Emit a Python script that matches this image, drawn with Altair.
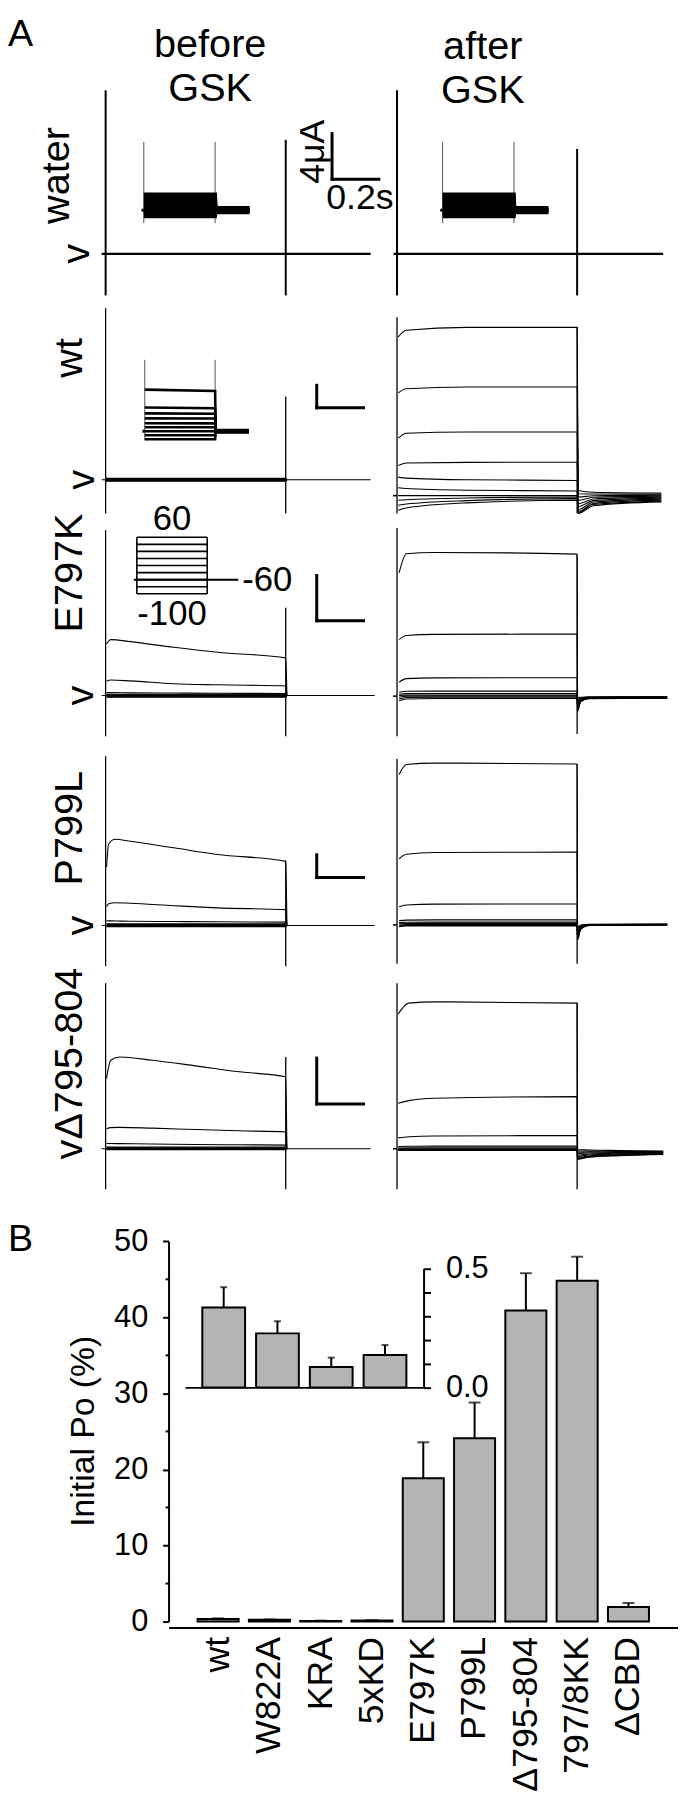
import altair as alt
import pandas as pd

FONT = "Liberation Sans"
INK = "#000000"
BAR_FILL = "#b4b4b4"

# ======================= Panel A data =======================
# time in s from the voltage-step onset, current in uA (0 = zero-current level "v")
SCALEBAR_S = 0.2
SCALEBAR_UA = 4.0

# ---- water ----
WATER_BEFORE_BASELINE_T = [-0.017, 1.133]
WATER_AFTER_BASELINE_T = [-0.015, 1.138]
WATER_BEFORE_TRANSIENTS = [[0.0, 14.35, -3.65], [0.77, 10.0, -3.65]]
WATER_AFTER_TRANSIENTS = [[0.0, 14.35, -3.65], [0.77, 9.2, -3.65]]
# magnified insets (x10 gain, compressed time)
INSET_PULSE_T = [0.0, 0.77]
INSET_TAIL_T = [0.775, 1.14]
INSET_PRE_T = [-0.025, 0.0]
WATER_INSET_LEVELS = [0.14, 0.115, 0.09, 0.065, 0.04, 0.015, -0.01, -0.035, -0.055]
WATER_INSET_TAILS = [0.02, 0.015, 0.01, 0.005, 0.0, -0.005, -0.01, -0.015, -0.02]
WATER_INSET_TRANSIENTS = [[0.0, 0.6, -0.113], [0.77, 0.6, -0.113]]

# ---- wt ----
WT_BEFORE_LEVELS = [0.25, 0.18, 0.12, 0.06, 0.0, -0.06, -0.12, -0.18, -0.25]
WT_BEFORE_BASELINE_T = [-0.017, 1.133]
WT_BEFORE_TRANSIENTS = [[0.0, 30.5, -6.0], [0.77, 14.8, -6.0]]
WT_INSET_START = [0.740, 0.423, 0.317, 0.229, 0.141, 0.070, 0.0, -0.070, -0.141]
WT_INSET_END = [0.714, 0.410, 0.310, 0.225, 0.140, 0.070, 0.0, -0.070, -0.141]
WT_INSET_TAILS = [0.02, 0.015, 0.01, 0.005, 0.0, -0.005, -0.01, -0.015, -0.02]
WT_INSET_TRANSIENTS = [[0.0, 1.27, -0.159], [0.77, 1.27, -0.159]]
WT_AFTER_T = [0.005, 0.04, 0.3, 0.77]
WT_AFTER_I = [
    [25.4, 26.6, 27.1, 27.1],
    [15.45, 16.2, 16.5, 16.5],
    [7.4, 8.28, 8.5, 8.51],
    [2.52, 3.0, 3.1, 3.12],
    [0.47, 0.3, 0.0, -0.12],
    [-1.41, -1.55, -1.85, -1.99],
    [-2.82, -2.82, -2.82, -2.82],
    [-3.65, -3.55, -3.25, -3.05],
    [-4.53, -4.3, -3.7, -3.35],
    [-5.41, -5.0, -4.1, -3.65],
]
WT_AFTER_TAIL_T = [0.775, 0.84, 1.13]
WT_AFTER_TAIL_I = [
    [-1.89, -2.2, -2.34],
    [-2.47, -2.52, -2.55],
    [-3.05, -2.85, -2.73],
    [-3.65, -3.1, -2.91],
    [-4.23, -3.4, -3.08],
    [-4.76, -3.7, -3.26],
    [-5.29, -3.95, -3.44],
    [-5.64, -4.2, -3.61],
    [-5.81, -4.4, -3.79],
    [-5.99, -4.6, -3.93],
]
WT_AFTER_HOLD = -2.82
WT_AFTER_TRANSIENTS = [[0.0, 28.9, -6.0], [0.77, 27.1, -6.0]]

# ---- E797K ----
E797K_BEFORE_T = [0.004, 0.022, 0.106, 0.292, 0.478, 0.77]
E797K_BEFORE_I = [
    [4.55, 4.94, 4.76, 4.26, 3.82, 3.33],
    [1.26, 1.37, 1.30, 1.05, 0.95, 0.85],
    [0.26, 0.26, 0.24, 0.22, 0.20, 0.18],
    [0.12, 0.12, 0.12, 0.12, 0.12, 0.12],
    [0.06, 0.06, 0.06, 0.06, 0.06, 0.06],
    [0.0, 0.0, 0.0, 0.0, 0.0, 0.0],
    [-0.05, -0.05, -0.05, -0.05, -0.05, -0.05],
    [-0.1, -0.1, -0.1, -0.1, -0.1, -0.1],
    [-0.14, -0.14, -0.14, -0.14, -0.14, -0.14],
]
E797K_BEFORE_BASELINE_T = [-0.017, 1.15]
E797K_BEFORE_TRANSIENTS = [[0.0, 14.6, -3.6], [0.77, 7.76, -3.6]]
E797K_AFTER_T = [0.009, 0.04, 0.16, 0.77]
E797K_AFTER_I = [
    [10.83, 12.52, 12.64, 12.49],
    [4.94, 5.30, 5.40, 5.43],
    [1.20, 1.50, 1.56, 1.58],
    [0.30, 0.38, 0.39, 0.39],
    [0.12, 0.17, 0.18, 0.18],
    [0.00, 0.04, 0.04, 0.04],
    [-0.15, -0.06, -0.05, -0.05],
    [-0.30, -0.17, -0.15, -0.15],
    [-0.45, -0.30, -0.26, -0.26],
]
E797K_AFTER_TAIL_T = [0.772, 0.785, 0.82, 1.155]
E797K_AFTER_TAIL_I = [
    [-0.2, -0.15, -0.12, -0.1],
    [-0.35, -0.2, -0.13, -0.12],
    [-0.5, -0.25, -0.15, -0.13],
    [-0.65, -0.3, -0.17, -0.15],
    [-0.8, -0.35, -0.19, -0.16],
    [-0.95, -0.4, -0.21, -0.18],
    [-1.1, -0.45, -0.23, -0.2],
    [-1.25, -0.5, -0.25, -0.22],
    [-1.4, -0.55, -0.27, -0.24],
]
E797K_AFTER_HOLD = -0.05
E797K_AFTER_TRANSIENTS = [[0.0, 14.8, -3.6], [0.77, 12.49, -3.4]]

# ---- P799L ----
P799L_BEFORE_T = [0.004, 0.013, 0.041, 0.106, 0.292, 0.478, 0.77]
P799L_BEFORE_I = [
    [10.26, 14.30, 15.13, 14.78, 13.63, 12.47, 11.25],
    [3.30, 3.80, 4.00, 3.90, 3.48, 3.10, 2.78],
    [0.82, 0.82, 0.80, 0.75, 0.70, 0.65, 0.59],
    [0.30, 0.30, 0.30, 0.30, 0.30, 0.30, 0.30],
    [0.15, 0.15, 0.15, 0.15, 0.15, 0.15, 0.15],
    [0.0, 0.0, 0.0, 0.0, 0.0, 0.0, 0.0],
    [-0.08, -0.08, -0.08, -0.08, -0.08, -0.08, -0.08],
    [-0.14, -0.14, -0.14, -0.14, -0.14, -0.14, -0.14],
    [-0.2, -0.2, -0.2, -0.2, -0.2, -0.2, -0.2],
]
P799L_BEFORE_BASELINE_T = [-0.017, 1.15]
P799L_BEFORE_TRANSIENTS = [[0.0, 29.7, -7.13], [0.77, 11.4, -7.13]]
P799L_AFTER_T = [0.009, 0.04, 0.16, 0.77]
P799L_AFTER_I = [
    [26.5, 28.24, 28.5, 28.35],
    [11.72, 12.5, 12.8, 12.87],
    [3.3, 3.6, 3.75, 3.77],
    [0.85, 0.95, 0.99, 0.99],
    [0.5, 0.57, 0.59, 0.59],
    [0.3, 0.35, 0.37, 0.37],
    [0.1, 0.15, 0.17, 0.17],
    [-0.05, 0.0, 0.02, 0.02],
    [-0.2, -0.1, -0.08, -0.08],
]
P799L_AFTER_TAIL_T = [0.772, 0.785, 0.82, 1.155]
P799L_AFTER_TAIL_I = [
    [-0.3, 0.1, 0.2, 0.24],
    [-0.6, 0.0, 0.18, 0.22],
    [-0.9, -0.1, 0.15, 0.2],
    [-1.2, -0.2, 0.12, 0.18],
    [-1.5, -0.3, 0.1, 0.16],
    [-1.8, -0.4, 0.08, 0.14],
    [-2.1, -0.5, 0.05, 0.12],
    [-2.3, -0.6, 0.03, 0.1],
    [-2.5, -0.7, 0.0, 0.08],
]
P799L_AFTER_HOLD = 0.1
P799L_AFTER_TRANSIENTS = [[0.0, 29.2, -6.7], [0.77, 28.35, -6.7]]

# ---- delta795-804 ----
D795_BEFORE_T = [0.004, 0.022, 0.06, 0.2, 0.385, 0.571, 0.77]
D795_BEFORE_I = [
    [6.13, 7.72, 8.00, 7.72, 7.23, 6.71, 6.28],
    [1.75, 1.85, 1.87, 1.80, 1.68, 1.57, 1.47],
    [0.46, 0.46, 0.45, 0.42, 0.38, 0.35, 0.32],
    [0.15, 0.15, 0.15, 0.15, 0.15, 0.15, 0.15],
    [0.08, 0.08, 0.08, 0.08, 0.08, 0.08, 0.08],
    [0.03, 0.03, 0.03, 0.03, 0.03, 0.03, 0.03],
    [0.0, 0.0, 0.0, 0.0, 0.0, 0.0, 0.0],
    [-0.05, -0.05, -0.05, -0.05, -0.05, -0.05, -0.05],
    [-0.08, -0.08, -0.08, -0.08, -0.08, -0.08, -0.08],
]
D795_BEFORE_BASELINE_T = [-0.017, 1.133]
D795_BEFORE_TRANSIENTS = [[0.0, 14.43, -3.52], [0.77, 8.0, -3.52]]
D795_AFTER_T = [0.005, 0.05, 0.16, 0.77]
D795_AFTER_I = [
    [11.75, 12.7, 12.81, 12.7],
    [3.97, 4.2, 4.41, 4.55],
    [0.95, 1.05, 1.12, 1.15],
    [0.2, 0.22, 0.23, 0.23],
    [0.07, 0.08, 0.09, 0.09],
    [0.0, 0.0, 0.0, 0.0],
    [-0.05, -0.05, -0.05, -0.05],
    [-0.1, -0.1, -0.1, -0.1],
    [-0.14, -0.14, -0.14, -0.14],
]
D795_AFTER_TAIL_T = [0.772, 0.82, 0.95, 1.138]
D795_AFTER_TAIL_I = [
    [-0.06, -0.1, -0.15, -0.2],
    [-0.18, -0.2, -0.22, -0.24],
    [-0.3, -0.28, -0.27, -0.27],
    [-0.42, -0.36, -0.32, -0.31],
    [-0.54, -0.45, -0.38, -0.35],
    [-0.66, -0.54, -0.44, -0.39],
    [-0.78, -0.62, -0.5, -0.43],
    [-0.86, -0.68, -0.55, -0.46],
    [-0.92, -0.74, -0.6, -0.49],
]
D795_AFTER_HOLD = 0.0
D795_AFTER_TRANSIENTS = [[0.0, 14.43, -3.52], [0.77, 12.7, -3.52]]

# ---- voltage protocol (mV) ----
PROTOCOL_STEPS_MV = [60, 40, 20, 0, -20, -40, -60, -80, -100]
PROTOCOL_HOLD_MV = -60
PROTOCOL_STEP_T = [0.0, 0.77]
PROTOCOL_HOLD_T = [-0.033, 1.11]

ROW_LABELS = ["water", "wt", "E797K", "P799L", "v\u0394795-804"]

# ======================= Panel B data =======================
CATEGORIES = ["wt", "W822A", "KRA", "5xKD", "E797K", "P799L",
              "\u0394795-804", "797/8KK", "\u0394CBD"]
PO_MEAN = [0.336, 0.227, 0.086, 0.136, 18.85, 24.1, 40.9, 44.8, 1.92]
PO_SEM = [0.085, 0.051, 0.039, 0.042, 4.72, 4.7, 4.9, 3.17, 0.52]
MAIN_TICKS = [0, 10, 20, 30, 40, 50]
MINOR_TICKS = [5, 15, 25, 35, 45]
INSET_TICKS = [0, 0.1, 0.2, 0.3, 0.4, 0.5]

# ======================= layout (pixels in chart) =======================
W, H = 676, 1626
PX_PER_S = 236.0
X0_BEFORE, X0_AFTER = 98.5, 392.5
ROW_FRAME = {  # zero-current pixel, pixels per uA
    "water": (240.0, 11.5),
    "wt": (468.0, 5.675),
    "E797K": (685.7, 11.425),
    "P799L": (917.7, 5.75),
    "d795": (1143.0, 11.575),
}
SCALEBAR_AT = {  # (s, uA) in before-column frame
    "water": (0.968, 6.55),
    "wt": (0.9025, 12.8),
    "E797K": (0.9025, 6.6),
    "P799L": (0.9025, 8.42),
    "d795": (0.9025, 3.91),
}

DUMMY = pd.DataFrame({"d": [0]})
layers = []


def xsc(x0, pps):
    return alt.Scale(domain=[0, 1], range=[x0, x0 + pps], nice=False, zero=False)


def ysc(y0, ppu):
    return alt.Scale(domain=[0, 1], range=[y0, y0 - ppu], nice=False, zero=False)


def build(times, values, tail_times=None, tail_values=None, back_to=None):
    rows = []
    for i, vals in enumerate(values):
        pts = list(zip(times, vals))
        if tail_times is not None:
            pts += list(zip(tail_times, tail_values[i]))
        if back_to is not None:
            pts.append(back_to)
        for k, (t, v) in enumerate(pts):
            rows.append({"trace": i, "k": k, "t": t, "I": v})
    return pd.DataFrame(rows)


def flat(t_pair, level):
    return pd.DataFrame({"trace": [0, 0], "k": [0, 1], "t": list(t_pair), "I": [level, level]})


def lines(df, xs, ys, width=1.1, color=INK, interp="monotone"):
    layers.append(alt.Chart(df).mark_line(strokeWidth=width, color=color, interpolate=interp).encode(
        x=alt.X("t:Q", scale=xs, axis=None),
        y=alt.Y("I:Q", scale=ys, axis=None),
        detail="trace:N",
        order=alt.Order("k:Q")))


def vrules(rows, xs, ys, width=1.3, color=INK):
    df = pd.DataFrame(rows, columns=["t", "top", "bottom"])
    layers.append(alt.Chart(df).mark_rule(strokeWidth=width, color=color).encode(
        x=alt.X("t:Q", scale=xs, axis=None),
        y=alt.Y("top:Q", scale=ys, axis=None),
        y2="bottom:Q"))


def scalebar(key, xs, ys):
    t0, i0 = SCALEBAR_AT[key]
    df = pd.DataFrame({"x": [t0, t0], "x2": [t0, t0 + SCALEBAR_S],
                       "y": [i0, i0], "y2": [i0 + SCALEBAR_UA, i0]})
    layers.append(alt.Chart(df).mark_rule(strokeWidth=3, color=INK, strokeCap="square").encode(
        x=alt.X("x:Q", scale=xs, axis=None), x2="x2:Q",
        y=alt.Y("y:Q", scale=ys, axis=None), y2="y2:Q"))


def text(s, x, y, size=40, angle=0, align="center"):
    layers.append(alt.Chart(DUMMY).mark_text(
        text=s, font=FONT, fontSize=size, angle=angle, align=align,
        baseline="alphabetic", color=INK).encode(x=alt.value(x), y=alt.value(y)))


XB = xsc(X0_BEFORE, PX_PER_S)
XA = xsc(X0_AFTER, PX_PER_S)
Y = {k: ysc(*v) for k, v in ROW_FRAME.items()}

# ---------- water row ----------
lines(flat(WATER_BEFORE_BASELINE_T, 0.0), XB, Y["water"], width=2.4, interp="linear")
lines(flat(WATER_AFTER_BASELINE_T, 0.0), XA, Y["water"], width=2.4, interp="linear")
vrules(WATER_BEFORE_TRANSIENTS, XB, Y["water"], 2.0)
vrules(WATER_AFTER_TRANSIENTS, XA, Y["water"], 2.0)
Y_WATER_INSET = ysc(196.0, 115.0)
for x0 in (137.0, 438.5):
    xs_in = xsc(x0, 93.5)
    vrules(WATER_INSET_TRANSIENTS, xs_in, Y_WATER_INSET, 1.0, color="#555555")
    lines(build(INSET_PULSE_T, [[v, v] for v in WATER_INSET_LEVELS],
                INSET_TAIL_T, [[v, v] for v in WATER_INSET_TAILS]),
          xs_in, Y_WATER_INSET, width=3.7, interp="linear")
    lines(flat(INSET_PRE_T, 0.0), xs_in, Y_WATER_INSET, width=3.0, interp="linear")
scalebar("water", XB, Y["water"])

# ---------- wt row ----------
lines(flat(WT_BEFORE_BASELINE_T, 0.0), XB, Y["wt"], width=1.1, interp="linear")
lines(build(INSET_PULSE_T, [[v, v] for v in WT_BEFORE_LEVELS], back_to=(0.775, 0.0)),
      XB, Y["wt"], width=1.1, interp="linear")
vrules(WT_BEFORE_TRANSIENTS, XB, Y["wt"], 1.3)
Y_WT_INSET = ysc(419.0, 56.75)
X_WT_INSET = xsc(138.0, 92.2)
vrules(WT_INSET_TRANSIENTS, X_WT_INSET, Y_WT_INSET, 1.0, color="#555555")
lines(build(INSET_PULSE_T, [[s, e] for s, e in zip(WT_INSET_START, WT_INSET_END)],
            INSET_TAIL_T, [[v, v] for v in WT_INSET_TAILS]),
      X_WT_INSET, Y_WT_INSET, width=2.6, interp="linear")
lines(flat(INSET_PRE_T, 0.0), X_WT_INSET, Y_WT_INSET, width=3.0, interp="linear")
lines(build(WT_AFTER_T, WT_AFTER_I, WT_AFTER_TAIL_T, WT_AFTER_TAIL_I), XA, Y["wt"])
lines(flat([-0.017, 0.0], WT_AFTER_HOLD), XA, Y["wt"], width=1.6, interp="linear")
vrules(WT_AFTER_TRANSIENTS, XA, Y["wt"], 1.3)
scalebar("wt", XB, Y["wt"])

# ---------- E797K row ----------
lines(flat(E797K_BEFORE_BASELINE_T, 0.0), XB, Y["E797K"], width=1.1, interp="linear")
lines(build(E797K_BEFORE_T, E797K_BEFORE_I, back_to=(0.775, 0.0)), XB, Y["E797K"])
vrules(E797K_BEFORE_TRANSIENTS, XB, Y["E797K"], 1.3)
lines(build(E797K_AFTER_T, E797K_AFTER_I, E797K_AFTER_TAIL_T, E797K_AFTER_TAIL_I), XA, Y["E797K"])
lines(flat([-0.017, 0.0], E797K_AFTER_HOLD), XA, Y["E797K"], width=1.6, interp="linear")
vrules(E797K_AFTER_TRANSIENTS, XA, Y["E797K"], 1.3)
scalebar("E797K", XB, Y["E797K"])

# voltage protocol inset
XP = xsc(130.0, 92.2)
YP = alt.Scale(domain=[-100, 60], range=[583, 526], nice=False, zero=False)
steps = pd.DataFrame({"t0": PROTOCOL_STEP_T[0], "t1": PROTOCOL_STEP_T[1], "mv": PROTOCOL_STEPS_MV})
layers.append(alt.Chart(steps).mark_rule(strokeWidth=1.6, color=INK).encode(
    x=alt.X("t0:Q", scale=XP, axis=None), x2="t1:Q",
    y=alt.Y("mv:Q", scale=YP, axis=None)))
hold = pd.DataFrame({"t0": [PROTOCOL_HOLD_T[0]], "t1": [PROTOCOL_HOLD_T[1]], "mv": [PROTOCOL_HOLD_MV]})
layers.append(alt.Chart(hold).mark_rule(strokeWidth=2.0, color=INK).encode(
    x=alt.X("t0:Q", scale=XP, axis=None), x2="t1:Q",
    y=alt.Y("mv:Q", scale=YP, axis=None)))
edges = pd.DataFrame({"t": PROTOCOL_STEP_T,
                      "lo": [min(PROTOCOL_STEPS_MV)] * 2, "hi": [max(PROTOCOL_STEPS_MV)] * 2})
layers.append(alt.Chart(edges).mark_rule(strokeWidth=1.6, color=INK).encode(
    x=alt.X("t:Q", scale=XP, axis=None),
    y=alt.Y("lo:Q", scale=YP, axis=None), y2="hi:Q"))
mid_t = (PROTOCOL_STEP_T[0] + PROTOCOL_STEP_T[1]) / 2
for label_mv, t, dx, dy, align in [
        (max(PROTOCOL_STEPS_MV), mid_t, 0, -7, "center"),
        (min(PROTOCOL_STEPS_MV), mid_t, 0, 32, "center"),
        (PROTOCOL_HOLD_MV, PROTOCOL_HOLD_T[1], 4, 11, "left")]:
    ldf = pd.DataFrame({"t": [t], "mv": [label_mv], "txt": [str(label_mv)]})
    layers.append(alt.Chart(ldf).mark_text(font=FONT, fontSize=35, color=INK, align=align,
                                           baseline="alphabetic", dx=dx, dy=dy).encode(
        x=alt.X("t:Q", scale=XP, axis=None),
        y=alt.Y("mv:Q", scale=YP, axis=None),
        text="txt:N"))

# ---------- P799L row ----------
lines(flat(P799L_BEFORE_BASELINE_T, 0.0), XB, Y["P799L"], width=1.1, interp="linear")
lines(build(P799L_BEFORE_T, P799L_BEFORE_I, back_to=(0.775, 0.0)), XB, Y["P799L"])
vrules(P799L_BEFORE_TRANSIENTS, XB, Y["P799L"], 1.3)
lines(build(P799L_AFTER_T, P799L_AFTER_I, P799L_AFTER_TAIL_T, P799L_AFTER_TAIL_I), XA, Y["P799L"])
lines(flat([-0.017, 0.0], P799L_AFTER_HOLD), XA, Y["P799L"], width=1.6, interp="linear")
vrules(P799L_AFTER_TRANSIENTS, XA, Y["P799L"], 1.3)
scalebar("P799L", XB, Y["P799L"])

# ---------- delta795-804 row ----------
lines(flat(D795_BEFORE_BASELINE_T, 0.0), XB, Y["d795"], width=1.1, interp="linear")
lines(build(D795_BEFORE_T, D795_BEFORE_I, back_to=(0.775, 0.0)), XB, Y["d795"])
vrules(D795_BEFORE_TRANSIENTS, XB, Y["d795"], 1.3)
lines(build(D795_AFTER_T, D795_AFTER_I, D795_AFTER_TAIL_T, D795_AFTER_TAIL_I), XA, Y["d795"])
lines(flat([-0.017, 0.0], D795_AFTER_HOLD), XA, Y["d795"], width=1.6, interp="linear")
vrules(D795_AFTER_TRANSIENTS, XA, Y["d795"], 1.3)
scalebar("d795", XB, Y["d795"])

# ---------- panel A text ----------
text("A", 0, 30, size=38, align="left")
text("before", 204, 41, size=40)
text("GSK", 204, 86, size=40)
text("after", 479, 43, size=40)
text("GSK", 479, 88, size=40)
text(ROW_LABELS[0], 62, 161, angle=270)
text(ROW_LABELS[1], 75, 345, angle=270)
text(ROW_LABELS[2], 74.5, 562, angle=270)
text(ROW_LABELS[3], 75, 819.5, angle=270)
text(ROW_LABELS[4], 75, 1153.7, angle=270, align="left")
text("v", 82, 240, angle=270)
text("v", 87, 468, angle=270)
text("v", 86, 685.7, angle=270)
text("v", 86, 917.7, angle=270)
text("4\u03bcA", 319, 137, size=36, angle=270)
text("0.2s", 355, 195, size=36)

# ======================= Panel B =======================
b_df = pd.DataFrame({"cat": CATEGORIES, "po": PO_MEAN,
                     "top": [m + e for m, e in zip(PO_MEAN, PO_SEM)]})
BX = alt.Scale(domain=CATEGORIES, range=[162, 676], paddingInner=0.2, paddingOuter=0.566)
BY = alt.Scale(domain=[0, 50], range=[1620, 1236.3], nice=False, zero=False)

layers.append(alt.Chart(b_df).mark_bar(fill=BAR_FILL, stroke=INK, strokeWidth=2).encode(
    x=alt.X("cat:N", scale=BX, sort=CATEGORIES,
            axis=alt.Axis(orient="bottom", offset=0, title=None, labelAngle=270,
                          labelFontSize=36, labelFont=FONT, labelColor=INK, labelPadding=9,
                          ticks=False, tickSize=0, domainWidth=2, domainColor=INK,
                          labelLimit=0, grid=False)),
    y=alt.Y("po:Q", scale=BY,
            axis=alt.Axis(orient="left", offset=-162, title=None, values=MAIN_TICKS,
                          tickSize=6, tickWidth=2, tickColor=INK, domainWidth=2,
                          domainColor=INK, labelFontSize=31, labelFont=FONT,
                          labelColor=INK, labelPadding=15, grid=False))))
layers.append(alt.Chart(b_df).mark_rule(strokeWidth=2, color=INK).encode(
    x=alt.X("cat:N", scale=BX, sort=CATEGORIES, axis=None),
    y=alt.Y("po:Q", scale=BY, axis=None), y2="top:Q"))
layers.append(alt.Chart(b_df).mark_tick(color=INK, thickness=2, size=12).encode(
    x=alt.X("cat:N", scale=BX, sort=CATEGORIES, axis=None),
    y=alt.Y("top:Q", scale=BY, axis=None)))
layers.append(alt.Chart(pd.DataFrame({"v": MINOR_TICKS})).mark_rule(strokeWidth=2, color=INK).encode(
    x=alt.value(159), x2=alt.value(162),
    y=alt.Y("v:Q", scale=BY, axis=None)))

# inset (first four constructs, expanded scale)
INSET_CATS = CATEGORIES[:4]
i_df = b_df.iloc[:4]
IX = alt.Scale(domain=INSET_CATS, range=[178.7, 419.3], paddingInner=0.205, paddingOuter=0.32)
IY = alt.Scale(domain=[0, 0.5], range=[1383.7, 1263.7], nice=False, zero=False)
layers.append(alt.Chart(i_df).mark_bar(fill=BAR_FILL, stroke=INK, strokeWidth=2).encode(
    x=alt.X("cat:N", scale=IX, sort=INSET_CATS,
            axis=alt.Axis(orient="bottom", offset=1383.7 - H, title=None, labels=False,
                          ticks=False, tickSize=0, domainWidth=2, domainColor=INK, grid=False)),
    y=alt.Y("po:Q", scale=IY,
            axis=alt.Axis(orient="right", offset=419.3 - W, title=None, values=INSET_TICKS,
                          labelExpr="datum.value == 0 ? '0.0' : (datum.value == 0.5 ? '0.5' : '')",
                          tickSize=7, tickWidth=2, tickColor=INK, domainWidth=2,
                          domainColor=INK, labelFontSize=31, labelFont=FONT,
                          labelColor=INK, labelPadding=15, grid=False))))
layers.append(alt.Chart(i_df).mark_rule(strokeWidth=2, color=INK).encode(
    x=alt.X("cat:N", scale=IX, sort=INSET_CATS, axis=None),
    y=alt.Y("po:Q", scale=IY, axis=None), y2="top:Q"))
layers.append(alt.Chart(i_df).mark_tick(color=INK, thickness=2, size=7).encode(
    x=alt.X("cat:N", scale=IX, sort=INSET_CATS, axis=None),
    y=alt.Y("top:Q", scale=IY, axis=None)))

text("B", 0, 1246, size=38, align="left")
text("Initial Po (%)", 87, 1428, size=34, angle=270)

chart = (alt.layer(*layers)
         .resolve_scale(x="independent", y="independent")
         .properties(width=W, height=H, padding=0)
         .configure_view(stroke=None))

chart.save("out.html", embed_options={"renderer": "svg", "actions": False})
